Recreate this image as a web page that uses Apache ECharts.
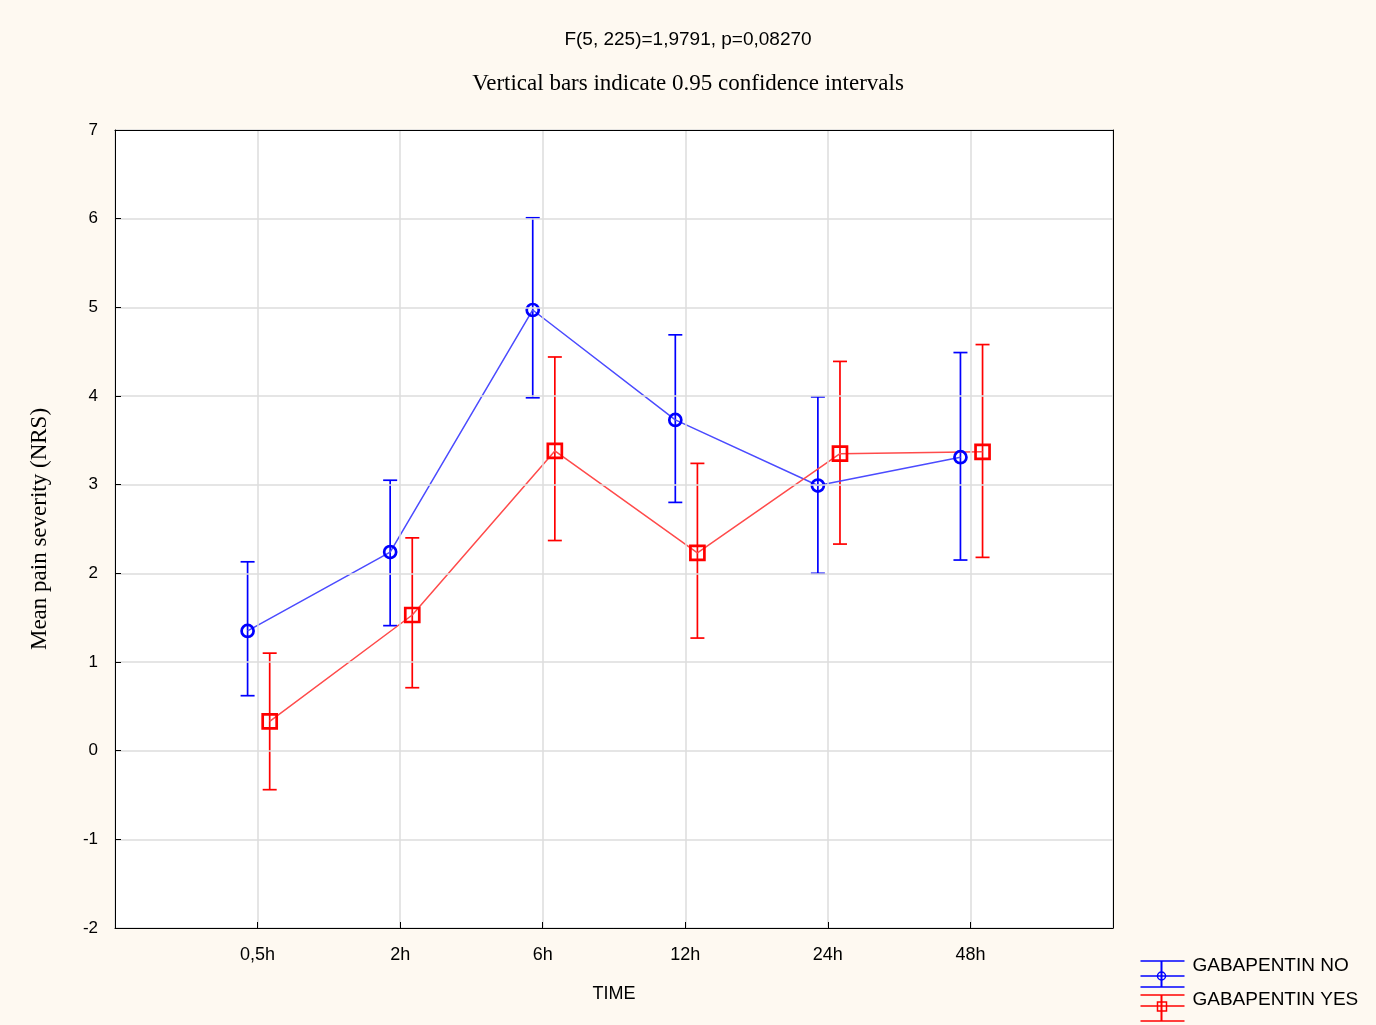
<!DOCTYPE html>
<html>
<head>
<meta charset="utf-8">
<script src="https://cdn.jsdelivr.net/npm/echarts@6/dist/echarts.min.js"></script>
<style>
  html, body { margin: 0; padding: 0; background: #fef9f1; }
  #chart { width: 1376px; height: 1025px; }
</style>
</head>
<body>
<div id="chart"></div>
<script>
// time points
var timeLabels = ['0,5h', '2h', '6h', '12h', '24h', '48h'];
// GABAPENTIN NO: mean and 95% CI
var noMean = [1.35, 2.24, 4.97, 3.73, 2.99, 3.31];
var noLow = [0.62, 1.41, 3.98, 2.80, 2.00, 2.15];
var noHigh = [2.13, 3.05, 6.01, 4.69, 3.99, 4.49];
// GABAPENTIN YES: mean and 95% CI
var yesMean = [0.33, 1.53, 3.38, 2.23, 3.35, 3.37];
var yesLow = [-0.44, 0.71, 2.37, 1.27, 2.33, 2.18];
var yesHigh = [1.10, 2.40, 4.44, 3.24, 4.39, 4.58];

var blue = '#0000ff';
var red = '#ff0000';

// small horizontal shift so the two groups do not overlap
function points(mean, shift) {
  return mean.map(function (v, i) { return [i + 1 + shift, v]; });
}
function bars(low, high, shift) {
  return low.map(function (v, i) { return [i + 1 + shift, v, high[i]]; });
}

function errorBar(color) {
  return function (params, api) {
    var x = api.value(0);
    var lo = api.coord([x, api.value(1)]);
    var hi = api.coord([x, api.value(2)]);
    var half = 7;
    var style = { stroke: color, lineWidth: 1.7 };
    return {
      type: 'group',
      children: [
        { type: 'line', shape: { x1: lo[0], y1: lo[1], x2: hi[0], y2: hi[1] }, style: style },
        { type: 'line', shape: { x1: lo[0] - half, y1: lo[1], x2: lo[0] + half, y2: lo[1] }, style: style },
        { type: 'line', shape: { x1: hi[0] - half, y1: hi[1], x2: hi[0] + half, y2: hi[1] }, style: style }
      ]
    };
  };
}

var chart = echarts.init(document.getElementById('chart'));

var frameAxis = {
  axisLine: { show: true, onZero: false, lineStyle: { color: '#000', width: 1 } },
  axisTick: { show: false },
  axisLabel: { show: false },
  splitLine: { show: false }
};

chart.setOption({
  backgroundColor: '#fef9f1',
  animation: false,
  title: [
    {
      text: 'F(5, 225)=1,9791, p=0,08270',
      left: 'center',
      top: 25,
      textStyle: { fontFamily: 'Liberation Sans', fontWeight: 'normal', fontSize: 19, color: '#000' }
    },
    {
      text: 'Vertical bars indicate 0.95 confidence intervals',
      left: 'center',
      top: 67,
      textStyle: { fontFamily: 'Liberation Serif', fontWeight: 'normal', fontSize: 23, color: '#000' }
    }
  ],
  grid: {
    left: 115,
    top: 130,
    right: 263,
    bottom: 97,
    show: true,
    backgroundColor: '#fff',
    borderWidth: 0
  },
  xAxis: [
    {
      type: 'value',
      min: 0,
      max: 7,
      interval: 1,
      name: 'TIME',
      nameLocation: 'middle',
      nameGap: 57,
      nameTextStyle: { fontFamily: 'Liberation Sans', fontSize: 18, color: '#000' },
      axisLine: { show: true, onZero: false, lineStyle: { color: '#000' } },
      axisTick: { show: true, inside: true, length: 6, lineStyle: { color: '#000' } },
      axisLabel: {
        margin: 18,
        fontFamily: 'Liberation Sans',
        fontSize: 18,
        color: '#000',
        formatter: function (v) { return timeLabels[v - 1] || ''; }
      },
      splitLine: { show: true, lineStyle: { color: '#dcdcdc', width: 1.5 } },
      z: 5
    },
    Object.assign({ type: 'value', position: 'top', min: 0, max: 7, z: 5 }, frameAxis)
  ],
  yAxis: [
    {
      type: 'value',
      min: -2,
      max: 7,
      interval: 1,
      name: 'Mean pain severity (NRS)',
      nameLocation: 'middle',
      nameGap: 64,
      nameTextStyle: { fontFamily: 'Liberation Serif', fontSize: 23, color: '#000' },
      axisLine: { show: true, onZero: false, lineStyle: { color: '#000' } },
      axisTick: { show: true, inside: true, length: 6, lineStyle: { color: '#000' } },
      axisLabel: { margin: 17, fontFamily: 'Liberation Sans', fontSize: 17, color: '#000' },
      splitLine: { show: true, lineStyle: { color: '#dcdcdc', width: 1.5 } },
      z: 5
    },
    Object.assign({ type: 'value', position: 'right', min: -2, max: 7, z: 5 }, frameAxis)
  ],
  series: [
    {
      name: 'NO bars',
      type: 'custom',
      renderItem: errorBar(blue),
      data: bars(noLow, noHigh, -0.07),
      z: 2
    },
    {
      name: 'YES bars',
      type: 'custom',
      renderItem: errorBar(red),
      data: bars(yesLow, yesHigh, 0.085),
      z: 2
    },
    {
      name: 'GABAPENTIN NO',
      type: 'line',
      data: points(noMean, -0.07),
      symbol: 'circle',
      symbolSize: 12,
      lineStyle: { color: '#4b4bff', width: 1.5 },
      itemStyle: { color: 'rgba(255,255,255,0)', borderColor: blue, borderWidth: 2.7 },
      z: 3
    },
    {
      name: 'GABAPENTIN YES',
      type: 'line',
      data: points(yesMean, 0.085),
      symbol: 'rect',
      symbolSize: 14,
      lineStyle: { color: '#ff4b4b', width: 1.5 },
      itemStyle: { color: 'rgba(255,255,255,0)', borderColor: red, borderWidth: 2.7 },
      z: 3
    }
  ],
  // legend drawn by hand to mimic the error-bar icons
  graphic: [
    {
      type: 'group',
      left: 1138,
      top: 956,
      children: [
        { type: 'line', shape: { x1: 0, y1: 1, x2: 44, y2: 1 }, style: { stroke: blue, lineWidth: 1.5 } },
        { type: 'line', shape: { x1: 0, y1: 16, x2: 44, y2: 16 }, style: { stroke: blue, lineWidth: 1.5 } },
        { type: 'line', shape: { x1: 0, y1: 27, x2: 44, y2: 27 }, style: { stroke: blue, lineWidth: 1.5 } },
        { type: 'line', shape: { x1: 21, y1: 1, x2: 21, y2: 27 }, style: { stroke: blue, lineWidth: 2 } },
        { type: 'circle', shape: { cx: 21, cy: 16, r: 4 }, style: { fill: 'none', stroke: blue, lineWidth: 1.5 } },
        { type: 'line', shape: { x1: 0, y1: 35, x2: 44, y2: 35 }, style: { stroke: red, lineWidth: 1.5 } },
        { type: 'line', shape: { x1: 0, y1: 46, x2: 44, y2: 46 }, style: { stroke: red, lineWidth: 1.5 } },
        { type: 'line', shape: { x1: 0, y1: 61, x2: 44, y2: 61 }, style: { stroke: red, lineWidth: 1.5 } },
        { type: 'line', shape: { x1: 21, y1: 35, x2: 21, y2: 61 }, style: { stroke: red, lineWidth: 2 } },
        { type: 'rect', shape: { x: 17, y: 42, width: 9, height: 9 }, style: { fill: 'none', stroke: red, lineWidth: 1.5 } },
        {
          type: 'text', left: 52, top: -4,
          style: { text: 'GABAPENTIN NO', font: '19px "Liberation Sans"', fill: '#000' }
        },
        {
          type: 'text', left: 52, top: 30,
          style: { text: 'GABAPENTIN YES', font: '19px "Liberation Sans"', fill: '#000' }
        }
      ]
    }
  ]
});
</script>
</body>
</html>
